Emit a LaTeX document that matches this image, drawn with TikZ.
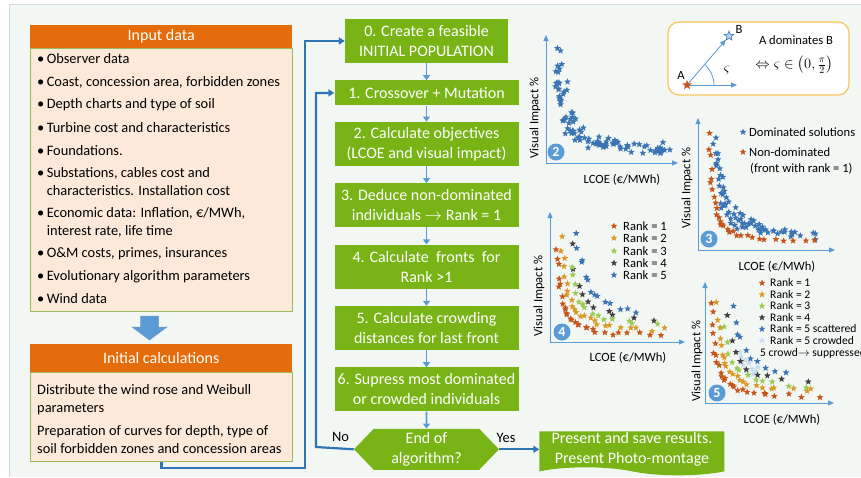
\documentclass[tikz,border=0pt]{standalone}
\usepackage{fontspec}
\setmainfont{Carlito}
\usepackage{amsmath}
\usepackage{xcolor}
\usetikzlibrary{shapes.geometric,shapes.symbols,arrows.meta,positioning,calc}

\definecolor{inorange}{HTML}{E46C0A}
\definecolor{inpeach}{HTML}{FDE9D9}
\definecolor{inframe}{HTML}{9BBB59}
\definecolor{stepgreen}{HTML}{78B416}
\definecolor{flowblue}{HTML}{5B9BD5}
\definecolor{loopblue}{HTML}{2E75B6}
\definecolor{pagebg}{HTML}{F3F7F4}
\definecolor{framegray}{HTML}{D4D8D6}
\definecolor{insetframe}{HTML}{F8C55A}
\definecolor{rone}{HTML}{C5561B}
\definecolor{rtwo}{HTML}{DA9A2A}
\definecolor{rthree}{HTML}{9BCB55}
\definecolor{rfour}{HTML}{404040}
\definecolor{rfive}{HTML}{3A74B2}
\definecolor{rcrowd}{HTML}{C8DDF0}

\begin{document}
\begin{tikzpicture}[x=1pt, y=-1pt,
  node distance=17pt,
  hdr/.style={fill=inorange, text=white, font=\fontsize{16}{18}\selectfont, minimum width=262pt, inner sep=0pt, anchor=north west},
  panel/.style={draw=inframe, fill=inpeach, line width=0.9pt, minimum width=262pt, inner sep=0pt, anchor=north west},
  item/.style={anchor=west, font=\fontsize{14.4}{18}\selectfont, align=left, inner sep=0pt},
  stepbox/.style={fill=stepgreen, text=white, align=center, font=\fontsize{16}{20}\selectfont, minimum width=184pt, minimum height=44pt, inner sep=0pt},
  decision/.style={signal, signal to=west and east, signal pointer angle=92, fill=stepgreen, text=white, align=center, font=\fontsize{16}{20}\selectfont, minimum width=145pt, minimum height=41pt, inner sep=0pt},
  present/.style={tape, tape bend top=none, tape bend bottom=out and in, tape bend height=8pt, fill=stepgreen, text=white, align=center, font=\fontsize{16}{20}\selectfont, minimum width=185pt, minimum height=44pt, inner sep=0pt},
  flow/.style={-{Triangle[length=5pt,width=7pt]}, line width=1.6pt, draw=flowblue},
  loop/.style={-{Triangle[length=6pt,width=7pt]}, line width=2.2pt, draw=loopblue},
  axis/.style={-{Triangle[length=6pt,width=5pt]}, line width=1pt, draw=flowblue},
  pt/.style={star, star points=5, star point ratio=2.3, minimum size=7pt, inner sep=0pt},
  num/.style={circle, fill=flowblue, text=white, minimum size=17pt, inner sep=0pt, font=\fontsize{14}{14}\selectfont\bfseries},
  ax/.style={font=\fontsize{12.6}{14}\selectfont, inner sep=0pt},
  lg/.style={font=\fontsize{12.6}{13}\selectfont, anchor=west, inner sep=0pt}
]
\useasboundingbox (0,0) rectangle (861,477);
\clip (0,0) rectangle (861,477);
\fill[white] (0,0) rectangle (861,477);
\fill[pagebg] (9,4) rectangle (861,477);
\draw[framegray, line width=0.8pt] (9,477) -- (9,4) -- (861,4);
\pgfmathsetseed{42}

% input data
\node[hdr, minimum height=23pt] (inhead) at (30,25) {Input data};
\node[panel, minimum height=263pt] (inbody) at (30,48) {};
\node[item] (obs) at (37,59) {\textbullet\,Observer data};
\node[item] (coast) at (37,82) {\textbullet\,Coast, concession area, forbidden zones};
\node[item] (depth) at (37,105) {\textbullet\,Depth charts and type of soil};
\node[item] (turb) at (37,128) {\textbullet\,Turbine cost and characteristics};
\node[item] (found) at (37,151) {\textbullet\,Foundations.};
\node[item] (subst) at (37,182) {\textbullet\,Substations, cables cost and\\\hphantom{\textbullet\,}characteristics. Installation cost};
\node[item] (econ) at (37,222) {\textbullet\,Economic data: Inflation, €/MWh,\\\hphantom{\textbullet\,}interest rate, life time};
\node[item] (om) at (37,254) {\textbullet\,O\&M costs, primes, insurances};
\node[item] (evol) at (37,277) {\textbullet\,Evolutionary algorithm parameters};
\node[item] (wind) at (37,299) {\textbullet\,Wind data};

% block arrow
\fill[flowblue, draw=loopblue!70, line width=0.5pt] (140.5,316) -- (158.5,316) -- (158.5,327) -- (167,327) -- (149.5,340) -- (132,327) -- (140.5,327) -- cycle;

% initial calculations
\node[hdr, minimum height=28pt] (inithead) at (30,344) {Initial calculations};
\node[panel, minimum height=89pt] (initbody) at (30,372) {};
\node[item] (rose) at (37,400) {Distribute the wind rose and Weibull\\parameters};
\node[item] (curves) at (37,440) {Preparation of curves for depth, type of\\soil forbidden zones and concession areas};

% algorithm
\node[stepbox, minimum width=163pt] (s0) at (426.5,41) {0. Create a feasible\\INITIAL POPULATION};
\node[stepbox, minimum height=25pt, below=of s0] (s1) {1. Crossover + Mutation};
\node[stepbox, below=16pt of s1] (s2) {2. Calculate objectives\\(LCOE and visual impact)};
\node[stepbox, below=of s2] (s3) {3. Deduce non-dominated\\individuals $\rightarrow$ Rank = 1};
\node[stepbox, below=of s3] (s4) {4. Calculate\ \ fronts\ \ for\\Rank >1};
\node[stepbox, below=of s4] (s5) {5. Calculate crowding\\distances for last front};
\node[stepbox, below=of s5] (s6) {6. Supress most dominated\\or crowded individuals};
\node[decision, below=of s6] (endalg) {End of\\algorithm?};
\node[present, right=40pt of endalg] (present) {Present and save results.\\Present Photo-montage};

\foreach \a/\b in {s0/s1, s1/s2, s2/s3, s3/s4, s4/s5, s5/s6, s6/endalg}
  \draw[flow] (\a) -- (\b);

\coordinate (noturn) at (316,447);
\coordinate (feedlow) at (305,468);
\draw[loop] (endalg.west) -- node[pos=0.35, above=2pt, font=\fontsize{14.4}{16}\selectfont, text=black] {No} (noturn) |- (s1.west);
\draw[loop] (endalg.east) -- node[pos=0.17, above=2pt, font=\fontsize{14.4}{16}\selectfont, text=black] {Yes} (present.west);
\draw[loop] (initbody.south) |- (feedlow) |- (s0.west);

% dominance sketch
\node[draw=insetframe, line width=1.2pt, rounded corners=11pt, fill=white, minimum width=181pt, minimum height=73pt] (dombox) at (758.5,58.5) {};
\coordinate (dirx) at (737,85);
\node[pt, fill=flowblue!45, draw=rfive, line width=0.6pt, minimum size=10pt] (ptB) at (729,36) {};
\draw[axis, line width=0.8pt] (687,85) coordinate (ptA) -- (ptB);
\draw[axis, line width=0.8pt] (ptA) -- (dirx);
\draw[flowblue, line width=0.8pt] ([xshift=27pt]ptA) arc[start angle=0, end angle=-49, radius=27];
\node[pt, fill=rone, minimum size=10pt] (starA) at (ptA) {};
\node[ax] (labA) at (681,75) {A};
\node[ax] (labB) at (739,29) {B};
\node[ax, font=\fontsize{14}{14}\selectfont] (zeta) at (727,70) {$\varsigma$};
\node[ax] (domtxt) at (796,40) {A dominates B};
\node[ax, font=\fontsize{14.5}{15}\selectfont] (domeq) at (794,65) {$\Leftrightarrow \varsigma \in \bigl(0,\tfrac{\pi}{2}\bigr)$};

% plot 2
\coordinate (o2) at (546,163);
\coordinate (y2) at (546,35);
\coordinate (x2) at (678,163);
\draw[axis] (o2) -- (y2);
\draw[axis] (o2) -- (x2);
\node[ax, rotate=90] (vi2) at (535,118) {Visual Impact \%};
\node[ax] (lc2) at (622,180) {LCOE (€/MWh)};
\begin{scope}[shift={(o2)}, yscale=-1]
  \foreach \i in {1,...,100}{
    \pgfmathsetmacro\u{-1.7+3.7*rnd}
    \pgfmathsetmacro\px{4+15*exp(\u)*(1+0.9*rnd)+7*rnd}
    \pgfmathsetmacro\py{6+15*exp(-(\u))*(1+1.1*rnd)+7*rnd}
    \pgfmathsetmacro\px{\px>124 ? 95+29*rnd : \px}
    \pgfmathsetmacro\py{\py>116 ? 75+41*rnd : \py}
    \node[pt, fill=rfive] (s2-\i) at (\px,\py) {};
  }
\end{scope}
\node[num] (n2) at (556,152) {2};

% plot 3
\coordinate (o3) at (698,250);
\coordinate (y3) at (698,118);
\coordinate (x3) at (835,250);
\draw[axis] (o3) -- (y3);
\draw[axis] (o3) -- (x3);
\node[ax, rotate=90] (vi3) at (687,188) {Visual Impact \%};
\node[ax] (lc3) at (777,267) {LCOE (€/MWh)};
\begin{scope}[shift={(o3)}, yscale=-1]
  \foreach \i in {1,...,70}{
    \pgfmathsetmacro\u{-1.6+3.4*rnd}
    \pgfmathsetmacro\px{10+17.3*exp(\u)*(1+0.6*rnd)+6*rnd}
    \pgfmathsetmacro\py{7+17.3*exp(-(\u))*(1+0.7*rnd)+6*rnd}
    \pgfmathsetmacro\px{\px>120 ? 95+25*rnd : \px}
    \pgfmathsetmacro\py{\py>114 ? 80+34*rnd : \py}
    \node[pt, fill=rfive] (d3-\i) at (\px,\py) {};
  }
  \foreach \i in {1,...,30}{
    \pgfmathsetmacro\u{-1.93+3.82*(\i-0.9+0.8*rnd)/30}
    \pgfmathsetmacro\px{9+17.3*exp(\u)+3*rnd-1.5}
    \pgfmathsetmacro\py{6+17.3*exp(-(\u))+3*rnd-1.5}
    \node[pt, fill=rone] (f3-\i) at (\px,\py) {};
  }
\end{scope}
\node[num] (n3) at (709,239) {3};
\node[pt, fill=rfive] (k3a) at (743,132) {};
\node[lg] (l3a) at (749,132) {Dominated solutions};
\node[pt, fill=rone] (k3b) at (743,152) {};
\node[lg] (l3b) at (749,152) {Non-dominated};
\node[lg] (l3c) at (750,169) {(front with rank = 1)};

% plot 4
\coordinate (o4) at (550,342);
\coordinate (y4) at (550,212);
\coordinate (x4) at (685,342);
\draw[axis] (o4) -- (y4);
\draw[axis] (o4) -- (x4);
\node[ax, rotate=90] (vi4) at (539,296) {Visual Impact \%};
\node[ax] (lc4) at (628,358) {LCOE (€/MWh)};
\begin{scope}[shift={(o4)}, yscale=-1]
  \foreach \r/\a/\c/\k/\ua/\ub/\n/\col in {5/18/18/28.3/-1.25/0.96/14/rfive, 4/14/14/25.5/-1.25/1.37/10/rfour, 3/12/11/23.5/-1.15/1.46/14/rthree, 2/7/8/21.2/-1.59/1.69/24/rtwo, 1/4/4/17.3/-1.75/1.93/28/rone}{
    \foreach \i in {1,...,\n}{
      \pgfmathsetmacro\u{\ua+(\ub-(\ua))*(\i-0.9+0.8*rnd)/\n}
      \pgfmathsetmacro\px{\a+\k*exp(\u)+4*rnd-2}
      \pgfmathsetmacro\py{\c+\k*exp(-(\u))+4*rnd-2}
      \node[pt, fill=\col] (s4-\r-\i) at (\px,\py) {};
    }
  }
\end{scope}
\node[num] (n4) at (562,332) {4};
\foreach \r/\col/\y in {1/rone/226, 2/rtwo/238, 3/rthree/251, 4/rfour/263, 5/rfive/275}{
  \node[pt, fill=\col] (k4-\r) at (614,\y) {};
  \node[lg] (l4-\r) at (623,\y) {Rank = \r};
}

% plot 5
\coordinate (o5) at (705,403);
\coordinate (y5) at (705,282);
\coordinate (x5) at (834,403);
\draw[axis] (o5) -- (y5);
\draw[axis] (o5) -- (x5);
\node[ax, rotate=90] (vi5) at (697,361) {Visual Impact \%};
\node[ax] (lc5) at (782,420) {LCOE (€/MWh)};
\begin{scope}[shift={(o5)}, yscale=-1]
  \foreach \p in {(36,46),(40,43),(44,40),(38,38),(47,34),(51,32),(42,31),(48,29),(35,51),(53,36)}
    \node[pt, fill=rcrowd] at \p {};
  \foreach \r/\a/\c/\k/\ua/\ub/\n/\col in {5/18/18/27.4/-1.21/0.97/10/rfive, 4/13/14/24.5/-1.2/1.43/9/rfour, 3/11/11/22.4/-1.12/1.49/12/rthree, 2/7/8/20.5/-1.55/1.69/22/rtwo, 1/4/4/16.7/-1.87/1.93/26/rone}{
    \foreach \i in {1,...,\n}{
      \pgfmathsetmacro\u{\ua+(\ub-(\ua))*(\i-0.9+0.8*rnd)/\n}
      \pgfmathsetmacro\px{\a+\k*exp(\u)+4*rnd-2}
      \pgfmathsetmacro\py{\c+\k*exp(-(\u))+4*rnd-2}
      \node[pt, fill=\col] (s5-\r-\i) at (\px,\py) {};
    }
  }
\end{scope}
\node[num] (n5) at (717,393) {5};
\foreach \r/\col/\y/\txt in {1/rone/283/Rank = 1, 2/rtwo/294.5/Rank = 2, 3/rthree/306/Rank = 3, 4/rfour/317.5/Rank = 4, 5/rfive/329/Rank = 5 scattered, 6/rcrowd/340.5/Rank = 5 crowded}{
  \node[pt, fill=\col] (k5-\r) at (762,\y) {};
  \node[lg, font=\fontsize{11.6}{12}\selectfont] (l5-\r) at (770,\y) {\txt};
}
\node[lg, font=\fontsize{11.6}{12}\selectfont] (l5-7) at (760,353) {5 crowd$\rightarrow$ suppressed};
\end{tikzpicture}
\end{document}
